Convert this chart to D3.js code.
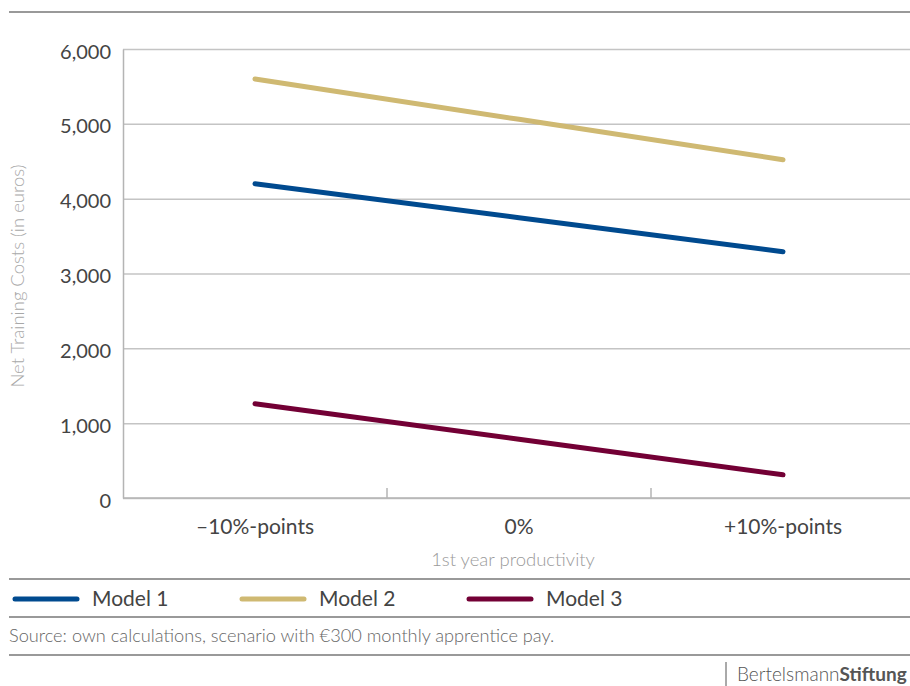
<!DOCTYPE html>
<html><head><meta charset="utf-8">
<script src="https://cdn.jsdelivr.net/npm/d3@7"></script>
<style>body{margin:0;background:#fff}svg{display:block;font-family:Lato,"Open Sans",sans-serif}</style>
</head><body>
<svg id="c" width="910" height="686"></svg>
<script>
const categories = ["\u201310%-points", "0%", "+10%-points"];
const model1 = [4200, 3745, 3290];
const model2 = [5600, 5060, 4520];
const model3 = [1260, 785, 310];
const yTicks = [0, 1000, 2000, 3000, 4000, 5000, 6000];
const seriesNames = ["Model 1", "Model 2", "Model 3"];
const seriesColors = ["#004a8f", "#cfb972", "#730035"];

const svg = d3.select("#c");
const L = 123, R = 915, T = 49, B = 498;
const x = d3.scaleBand().domain(categories).range([L, R]);
const y = d3.scaleLinear().domain([0, 6000]).range([B, T]);

// top rule
svg.append("line").attr("x1", 9).attr("x2", 910).attr("y1", 12).attr("y2", 12).attr("stroke", "#999").attr("stroke-width", 2);

// gridlines
const grid = svg.append("g").attr("transform", `translate(${L},0)`)
  .call(d3.axisLeft(y).tickValues(yTicks).tickSize(-(910 - L)).tickFormat(""));
grid.select(".domain").remove();
grid.selectAll("line").attr("stroke", "#c4c4c4").attr("stroke-width", 1.5);

// y axis labels
const ya = svg.append("g").attr("transform", `translate(${L},0)`)
  .call(d3.axisLeft(y).tickValues(yTicks).tickSize(0).tickPadding(12).tickFormat(d3.format(",")));
ya.select(".domain").attr("stroke", "#b4b4b4").attr("stroke-width", 1.5);
ya.selectAll("text").attr("font-size", 20).attr("fill", "#444").attr("font-family", "Lato").attr("dy", "0.45em");

// x axis
const xa = svg.append("g").attr("transform", `translate(0,${B})`)
  .call(d3.axisBottom(x).tickSize(0).tickPadding(21));
xa.select(".domain").attr("d", `M${L},0H910`).attr("stroke", "#b4b4b4").attr("stroke-width", 1.5);
xa.selectAll("text").attr("font-size", 21).attr("fill", "#444").attr("font-family", "Lato");
// band separators
svg.append("g").selectAll("line").data(categories.slice(1)).join("line")
  .attr("x1", d => x(d)).attr("x2", d => x(d)).attr("y1", B - 10).attr("y2", B)
  .attr("stroke", "#b4b4b4").attr("stroke-width", 1.5);

// axis titles
svg.append("text").attr("x", 513).attr("y", 566).attr("text-anchor", "middle")
  .attr("font-size", 18.5).attr("fill", "#9a9a9a").attr("font-weight", 300).text("1st year productivity");
svg.append("text").attr("transform", "translate(24,276) rotate(-90)").attr("text-anchor", "middle")
  .attr("font-size", 18.5).attr("fill", "#a8a8a8").attr("font-weight", 300).text("Net Training Costs (in euros)");

// lines
const line = d3.line().x((d, i) => x(categories[i]) + x.bandwidth() / 2).y(d => y(d));
[model1, model2, model3].forEach((s, i) => {
  svg.append("path").datum(s).attr("d", line).attr("fill", "none")
    .attr("stroke", seriesColors[i]).attr("stroke-width", 5).attr("stroke-linecap", "round");
});

// separators
[579, 617, 655].forEach(yy => svg.append("line").attr("x1", 9).attr("x2", 910).attr("y1", yy).attr("y2", yy)
  .attr("stroke", "#999").attr("stroke-width", 2));

// legend
const lg = svg.append("g").selectAll("g").data(seriesNames).join("g")
  .attr("transform", (d, i) => `translate(${15 + i * 227},599)`);
lg.append("line").attr("x1", 0).attr("x2", 62).attr("stroke", (d, i) => seriesColors[i])
  .attr("stroke-width", 5).attr("stroke-linecap", "round");
lg.append("text").attr("x", 77).attr("dy", "0.35em").attr("font-size", 21).attr("fill", "#444").text(d => d);

// source
svg.append("text").attr("x", 9).attr("y", 642).attr("font-size", 18.2).attr("fill", "#666")
  .attr("font-weight", 300).text("Source: own calculations, scenario with \u20ac300 monthly apprentice pay.");

// footer
svg.append("line").attr("x1", 726).attr("x2", 726).attr("y1", 662).attr("y2", 686).attr("stroke", "#555").attr("stroke-width", 1);
const ft = svg.append("text").attr("x", 737).attr("y", 681).attr("font-size", 19).attr("fill", "#555");
ft.append("tspan").attr("font-weight", 300).text("Bertelsmann");
ft.append("tspan").attr("font-weight", 700).text("Stiftung");
</script>
</body></html>
